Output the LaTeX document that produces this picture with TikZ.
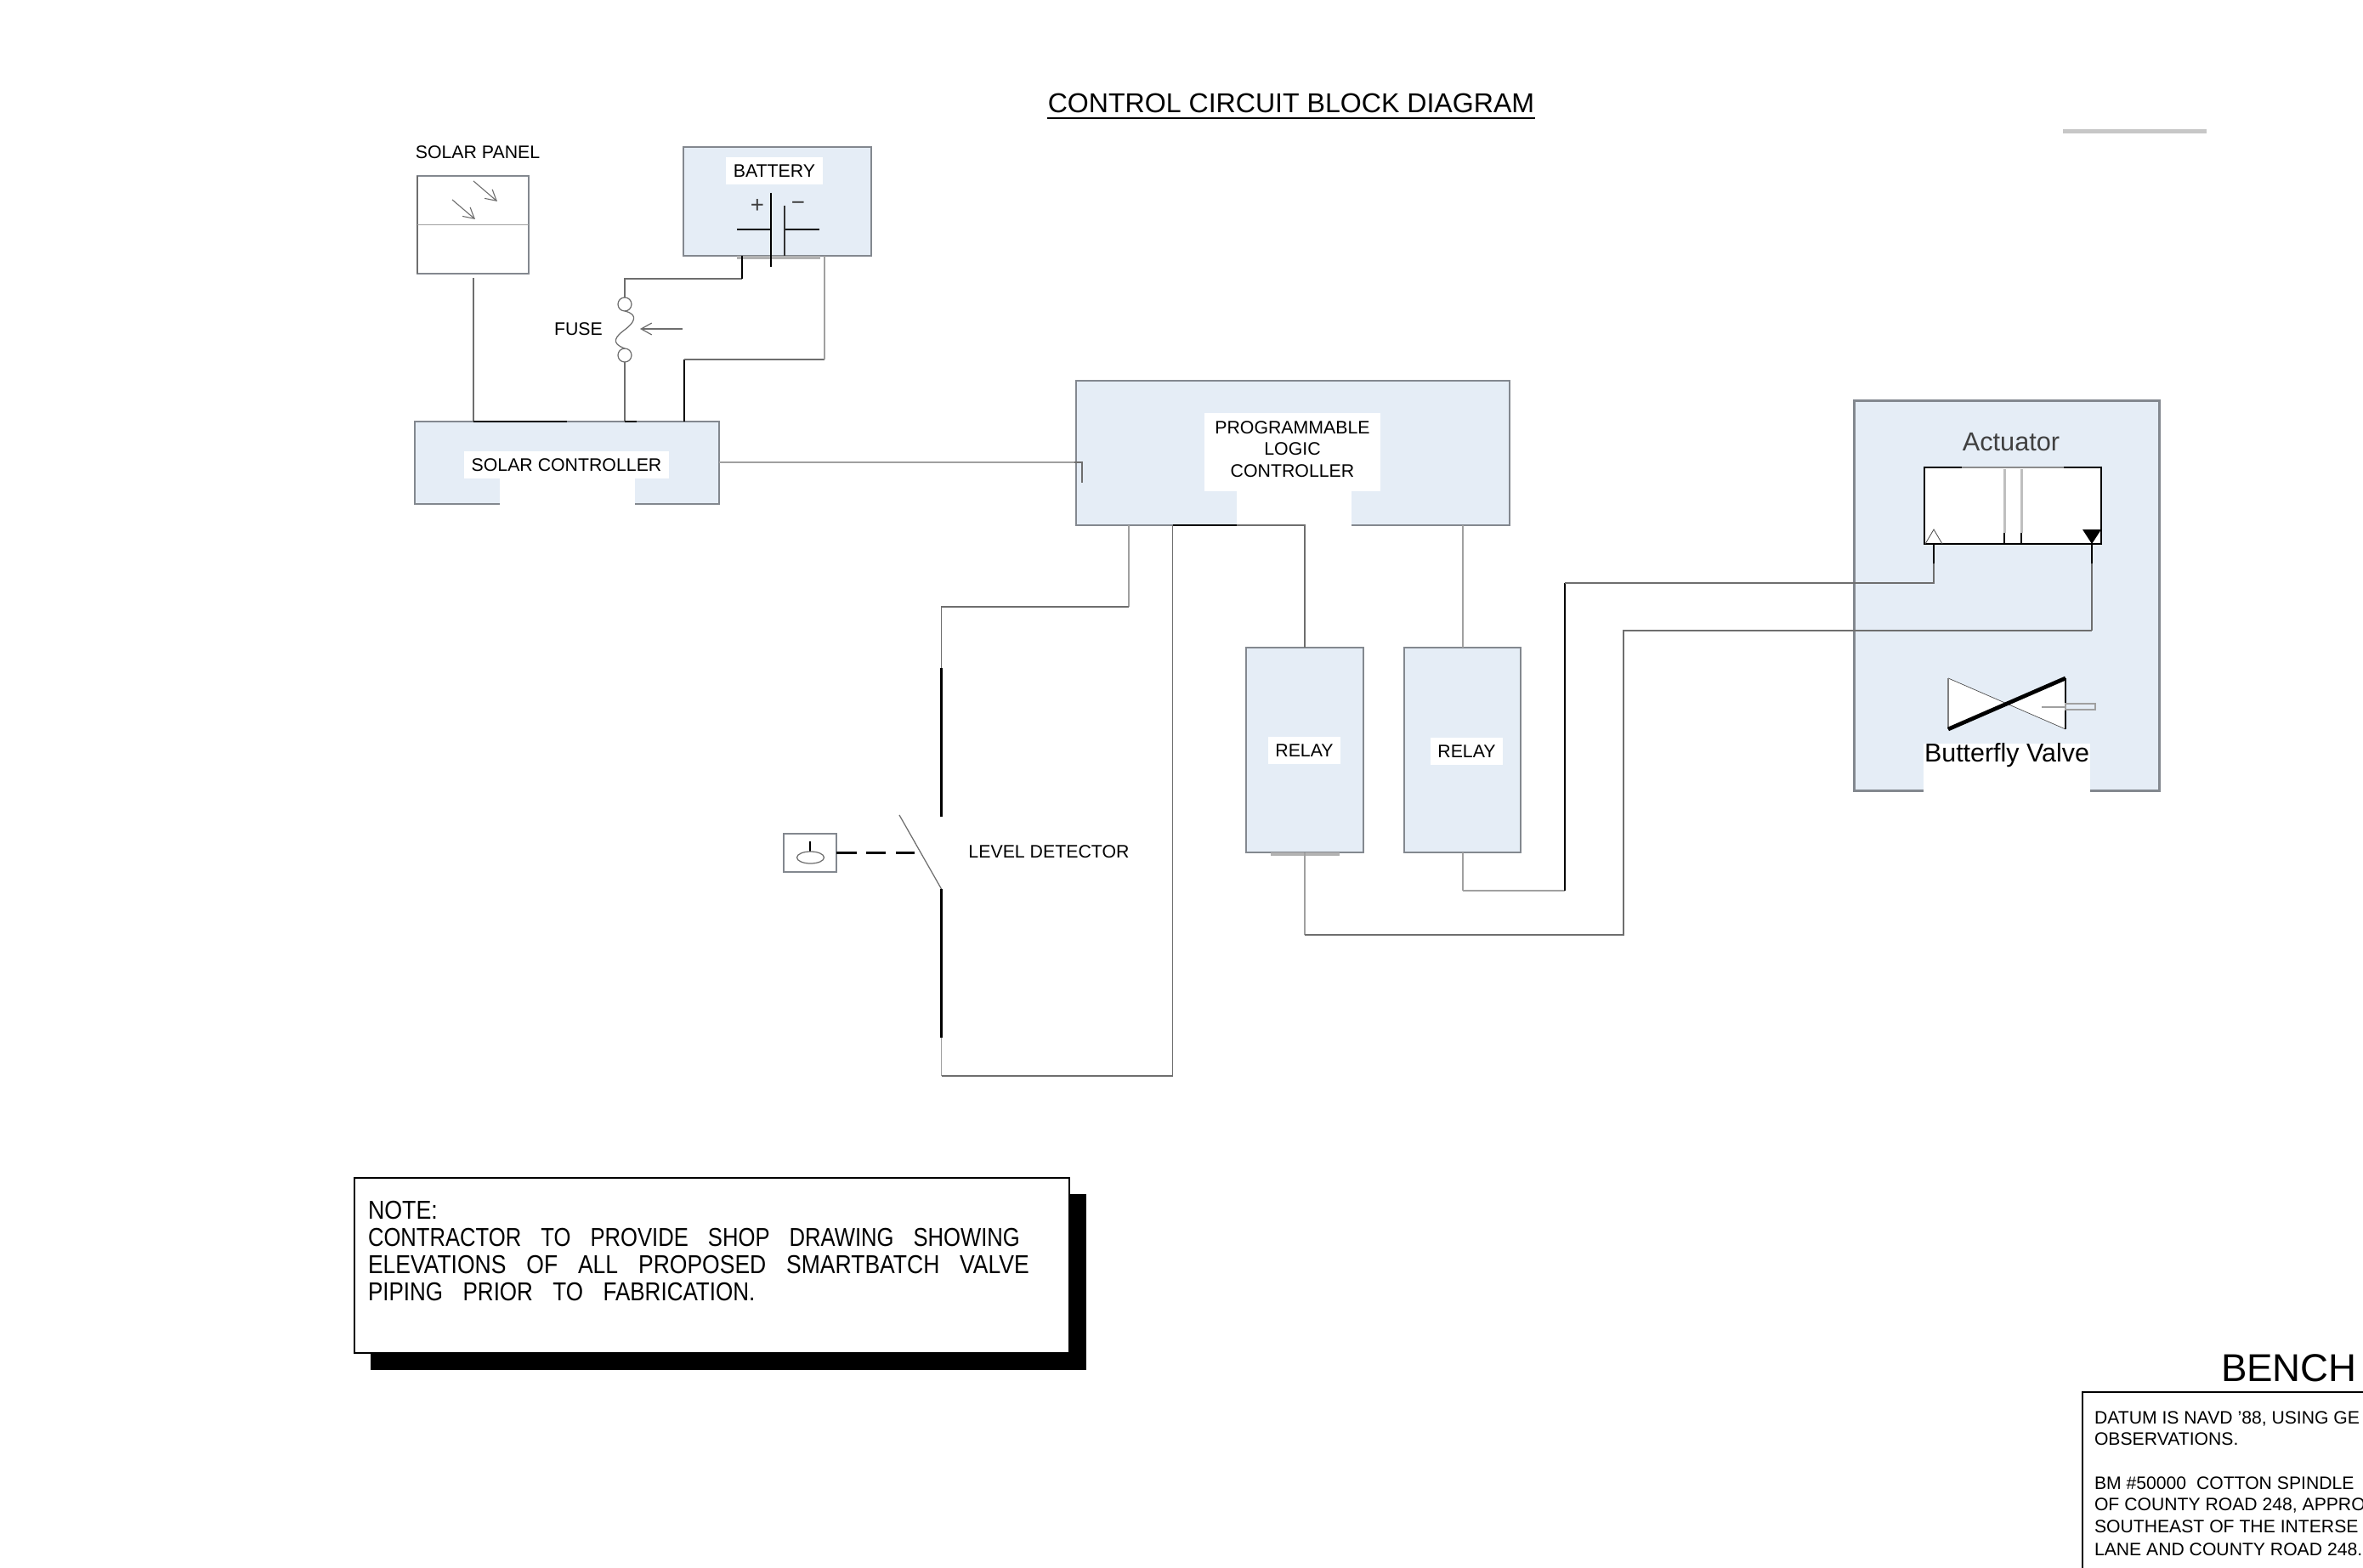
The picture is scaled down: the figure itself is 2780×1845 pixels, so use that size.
\documentclass[tikz,border=0pt]{standalone}
\usepackage{fontspec}
\usetikzlibrary{arrows.meta}
\setmainfont{Liberation Sans}
\newdimen\pxu \pxu=0.0254cm
\definecolor{boxfill}{HTML}{E5EDF6}
\definecolor{wire}{HTML}{6E6E6E}
\definecolor{wirelight}{HTML}{A0A0A0}
\definecolor{edge}{HTML}{83888F}
\tikzset{
  x=0.0254cm, y=-0.0254cm,
  every node/.style={outer sep=0pt},
  panelbox/.style={draw=edge, fill=boxfill, line width=1.5pt, inner sep=0pt},
  wireline/.style={draw=wire, line width=1.4pt},
  wiredark/.style={draw=black, line width=1.5pt},
  wirepale/.style={draw=wirelight, line width=1.4pt},
  symline/.style={draw=wire, line width=.9pt},
  lab/.style={font=\fontsize{15.4pt}{18.4pt}\selectfont, text=black, inner sep=0pt, align=center},
  whitelab/.style={lab, fill=white},
  notetext/.style={font=\fontsize{22pt}{26pt}\selectfont, inner sep=0pt, anchor=west},
  benchtext/.style={font=\fontsize{15.3pt}{18pt}\selectfont, inner sep=0pt, anchor=base west},
  barb/.style={-{Straight Barb[length=9pt,width=10pt]}},
}
\newcommand{\notesize}[2]{\scalebox{#1}[1]{\spaceskip=0.9em\relax #2}}
\begin{document}
\begin{tikzpicture}
\useasboundingbox (0,0) rectangle (2780,1845);
% title
\node[lab,font=\fontsize{23.2pt}{27pt}\selectfont,anchor=base] (title) at (1519,133) {CONTROL CIRCUIT BLOCK DIAGRAM};
\draw[black,line width=1.6pt] (1232,139) -- (1806,139);
\fill[black!22] (2427,152) rectangle (2596,157);
% solar panel
\node[lab,anchor=base] (solarlabel) at (562,187) {SOLAR PANEL};
\node[draw=edge,fill=white,line width=1.3pt,minimum width=131\pxu,minimum height=115\pxu,inner sep=0pt] (panel) at (556.5,264.5) {};
\draw[wire,line width=1.6pt] (panel.north west) -- (panel.south west);
\draw[wirepale] (panel.west) -- (panel.east);
\draw[wire,line width=.8pt,barb] (557,213) -- (585,237);
\draw[wire,line width=.8pt,barb] (532,235) -- (559,258);
% battery
\node[panelbox,minimum width=221\pxu,minimum height=128\pxu] (battery) at (914.5,237) {};
\node[whitelab,minimum width=114\pxu,minimum height=32\pxu] (batlabel) at (911,201) {BATTERY};
\draw[black!30,line width=2.2pt] (867,303) -- (965,303);
\draw[black,line width=1.3pt] (867,270) -- (907,270);
\draw[black,line width=1.3pt] (923,270) -- (964,270);
\draw[black,line width=1.6pt] (907,227) -- (907,314);
\draw[black!80,line width=1.1pt] (923,242) -- (923,301);
\node[lab,text=black!75,font=\fontsize{20pt}{20pt}\selectfont] (plus) at (891,243) {+};
\node[lab,text=black!75,font=\fontsize{20pt}{20pt}\selectfont] (minus) at (939,242) {−};
% solar controller
\node[panelbox,minimum width=358\pxu,minimum height=97\pxu] (sc) at (667,544.5) {};
\fill[white] (588,563) rectangle (747,595);
\node[whitelab,minimum width=241\pxu,minimum height=32\pxu] (sclabel) at (666.5,547) {SOLAR CONTROLLER};
% plc
\node[panelbox,minimum width=510\pxu,minimum height=170\pxu] (plc) at (1521,533) {};
\fill[white] (1455,578) rectangle (1590,620);
\fill[white] (1417,486) rectangle (1624,578);
\node[lab] (plclabel) at (1520.5,528.5) {PROGRAMMABLE\\LOGIC\\CONTROLLER};
% relays
\node[panelbox,minimum width=138\pxu,minimum height=241\pxu] (r1) at (1535,882.5) {};
\node[panelbox,minimum width=137\pxu,minimum height=241\pxu] (r2) at (1720.5,882.5) {};
\draw[black!30,line width=2.2pt] (1495,1005) -- (1576,1005);
\node[whitelab,minimum width=85\pxu,minimum height=32\pxu] (r1l) at (1534.5,883) {RELAY};
\node[whitelab,minimum width=85\pxu,minimum height=32\pxu] (r2l) at (1725.5,884) {RELAY};
% actuator block
\node[panelbox,minimum width=359\pxu,minimum height=459\pxu] (act) at (2361,701) {};
\fill[white] (2263,875) rectangle (2459,933);
\node[draw=black,fill=white,line width=1pt,minimum width=208\pxu,minimum height=90\pxu,inner sep=0pt] (cyl) at (2368,595) {};
\draw[black!45,line width=1pt] (2308,550) -- (2428,550);
\node[lab,text=black!75,font=\fontsize{22.2pt}{25pt}\selectfont,anchor=base] (actl) at (2366,530) {Actuator};
\draw[black!25,line width=2.2pt] (2358,552) -- (2358,627);
\draw[black!25,line width=2.2pt] (2378,552) -- (2378,627);
\draw[black,line width=.9pt] (2358,627) -- (2358,640);
\draw[black,line width=.9pt] (2378,627) -- (2378,640);
\draw[black!70,line width=.6pt] (2265,640) -- (2275,623) -- (2285,640);
\fill[black] (2450,623) -- (2472,623) -- (2461,640) -- cycle;
% butterfly valve
\fill[white] (2292,798) -- (2361,828) -- (2430,798) -- (2430,858) -- (2361,828) -- (2292,858) -- cycle;
\draw[black!70,line width=.5pt] (2292,798) -- (2430,858);
\draw[black!50,line width=1pt] (2292,798) -- (2292,858);
\draw[black,line width=1.3pt] (2430,798) -- (2430,858);
\draw[black,line width=3.4pt] (2292,858) -- (2430,798);
\draw[wirelight,line width=.9pt,fill=boxfill] (2430,828) rectangle (2465,835);
\draw[wirelight,line width=1pt] (2402,832) -- (2430,832);
\node[lab,font=\fontsize{22pt}{25pt}\selectfont,anchor=base] (bvl) at (2361,896) {Butterfly Valve};
% level detector
\node[draw=edge,fill=white,line width=1.2pt,minimum width=62\pxu,minimum height=45\pxu,inner sep=0pt] (ld) at (953,1003.5) {};
\coordinate (float) at (953.5,1009);
\draw[black,line width=1.1pt] (953,990) -- (953,1002);
\draw[symline,fill=none] (float) ellipse (16 and 7);
\coordinate (sw1) at (1058,959); \coordinate (sw2) at (1107.5,1046);
\draw[symline] (sw1) -- (sw2);
\coordinate (swlink) at (1076,1003.5);
\draw[black,line width=1.5pt,dash pattern=on 24\pxu off 11\pxu on 23\pxu off 12\pxu on 23\pxu] (ld.east) -- (swlink);
\node[lab,anchor=base] (ldl) at (1234,1009) {LEVEL DETECTOR};
% fuse
\node[lab,anchor=base] (fusel) at (680.5,395) {FUSE};
\node[draw=wire,fill=white,line width=.9pt,circle,minimum size=16\pxu,inner sep=0pt] (f1) at (735,358) {};
\node[draw=wire,fill=white,line width=.9pt,circle,minimum size=16\pxu,inner sep=0pt] (f2) at (735,418) {};
\draw[symline] (f1.south) .. controls (752,370) and (746,380) .. (735,388) .. controls (724,396) and (718,404) .. (f2.north);
\coordinate (fusetail) at (803,387);
\draw[wire,line width=.9pt,barb] (fusetail) -- (753,387);
% wires: solar side
\coordinate (battneg) at (873,301); \coordinate (battpos) at (970,301);
\coordinate (scA) at (557,496); \coordinate (scB) at (735,496); \coordinate (scC) at (805,496);
\draw[wireline] (557,327) -- (scA);
\draw[wireline] (f1.north) -- (735,328) -- (873,328);
\draw[wiredark] (873,328) -- (battneg);
\draw[wireline] (f2.south) -- (scB);
\draw[wiredark] (scC) -- (805,423);
\draw[wireline] (805,423) -- (970,423);
\draw[wirepale] (970,423) -- (battpos);
\draw[wiredark,line width=1.2pt] (scA) -- (667,496);
\draw[wiredark,line width=1.2pt] (scB) -- (749,496);
% controller to plc
\coordinate (plcin) at (1273,544);
\draw[wirepale] (846,544) -- (plcin);
\draw[wire,line width=1pt] (1264,544) -- (plcin) -- (1273,568);
% plc to level switch
\draw[wirepale] (1328,618) -- (1328,714);
\draw[wireline] (1328,714) -- (1107.5,714) -- (1107.5,786);
\draw[wiredark] (1107.5,786) -- (1107.5,961);
\draw[wiredark] (sw2) -- (1107.5,1221);
\draw[wirepale] (1107.5,1221) -- (1107.5,1266);
\draw[wireline] (1107.5,1266) -- (1379.5,1266) -- (1379.5,618);
\draw[wiredark,line width=1.2pt] (1379.5,618) -- (1455,618);
\draw[wireline] (1455,618) -- (1535,618) -- (r1.north);
\draw[wirepale] (1721,618) -- (1721,762);
% relays to actuator
\draw[wirepale] (r1.south) -- (1535,1100);
\draw[wireline] (1535,1100) -- (1910,1100) -- (1910,742) -- (2461,742);
\draw[wireline] (2461,742) -- (2461,663);
\draw[wiredark] (2461,663) -- (2461,640);
\draw[wirepale] (1721,1003) -- (1721,1048);
\draw[wirelight,line width=2pt] (1721,1048) -- (1841,1048);
\draw[wiredark,line width=1.7pt] (1841,1048) -- (1841,686);
\draw[wireline] (1841,686) -- (2275,686) -- (2275,663);
\draw[wiredark] (2275,663) -- (2275,640);
% note
\fill[black] (436,1405) rectangle (1278,1612);
\node[draw=black,fill=white,line width=1.2pt,minimum width=841\pxu,minimum height=206\pxu,inner sep=0pt] (note) at (837.5,1489) {};
\node[notetext] (n1) at (433,1424) {\notesize{0.88}{NOTE:}};
\node[notetext] (n2) at (433,1456) {\notesize{0.842}{CONTRACTOR TO PROVIDE SHOP DRAWING SHOWING}};
\node[notetext] (n3) at (433,1488) {\notesize{0.871}{ELEVATIONS OF ALL PROPOSED SMARTBATCH VALVE}};
\node[notetext] (n4) at (433,1520) {\notesize{0.855}{PIPING PRIOR TO FABRICATION.}};
% bench mark box, cut by the page edge
\node[lab,font=\fontsize{33pt}{38pt}\selectfont,anchor=base west] (bench) at (2613,1625) {BENCH};
\draw[black,line width=2pt] (2450,1845) -- (2450,1638) -- (2780,1638);
\node[benchtext] (b1) at (2464,1675) {DATUM IS NAVD '88, USING GE};
\node[benchtext] (b2) at (2464,1700) {OBSERVATIONS.};
\node[benchtext] (b3) at (2464,1752) {BM \#50000\ \ COTTON SPINDLE};
\node[benchtext] (b4) at (2464,1777) {OF COUNTY ROAD 248, APPRO};
\node[benchtext] (b5) at (2464,1803) {SOUTHEAST OF THE INTERSE};
\node[benchtext] (b6) at (2464,1830) {LANE AND COUNTY ROAD 248.};
\end{tikzpicture}
\end{document}
